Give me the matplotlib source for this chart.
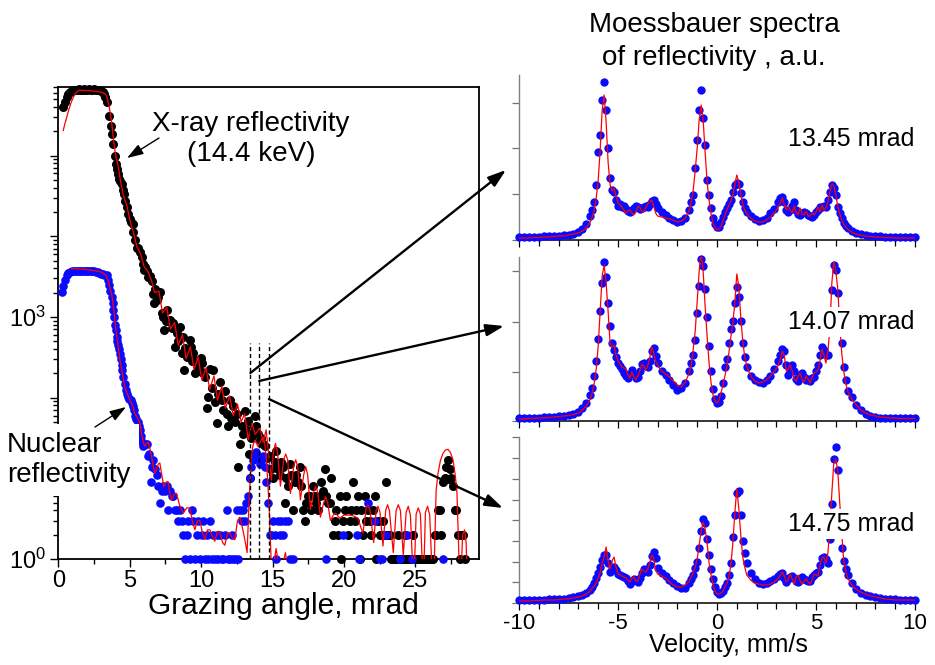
import matplotlib
matplotlib.use("Agg")
import matplotlib.pyplot as plt
from matplotlib.patches import FancyArrowPatch, ConnectionPatch
from matplotlib.ticker import FixedLocator, MultipleLocator, LogLocator, FixedFormatter, NullFormatter

plt.rcParams['font.family'] = ['Liberation Sans', 'DejaVu Sans']
plt.rcParams['mathtext.fontset'] = 'custom'
plt.rcParams['mathtext.rm'] = 'Liberation Sans'
plt.rcParams['mathtext.it'] = 'Liberation Sans:italic'
plt.rcParams['axes.unicode_minus'] = False

# ---------------- left panel data: reflectivity curves (counts) ----------------
XR_ANGLE = [0.35, 0.47, 0.59, 0.70, 0.82, 0.94, 1.06, 1.18, 1.30, 1.42,
            1.54, 1.66, 1.78, 1.90, 2.02, 2.14, 2.26, 2.38, 2.50, 2.62,
            2.74, 2.86, 2.98, 3.10, 3.20, 3.30, 3.43, 3.57, 3.66, 3.76,
            3.85, 3.97, 4.06, 4.13, 4.20, 4.27, 4.35, 4.43, 4.52, 4.60,
            4.69, 4.78, 4.90, 5.01, 5.10, 5.20, 5.26, 5.37, 5.48, 5.60,
            5.71, 5.83, 5.94, 6.00, 6.06, 6.18, 6.29, 6.41, 6.53, 6.64,
            6.70, 6.76, 6.88, 7.00, 7.11, 7.23, 7.34, 7.40, 7.52, 7.58,
            7.69, 7.81, 7.93, 8.04, 8.16, 8.28, 8.40, 8.51, 8.63, 8.74,
            8.80, 8.86, 8.98, 9.10, 9.21, 9.27, 9.33, 9.39, 9.45, 9.56,
            9.68, 9.80, 9.91, 9.97, 10.03, 10.09, 10.15, 10.26, 10.38, 10.49,
            10.60, 10.73, 10.84, 10.96, 11.08, 11.19, 11.31, 11.43, 11.55, 11.66,
            11.78, 11.89, 12.00, 12.12, 12.24, 12.36, 12.48, 12.59, 12.71, 12.83,
            12.94, 13.06, 13.18, 13.29, 13.35, 13.40, 13.52, 13.64, 13.76, 13.87,
            14.00, 14.10, 14.22, 14.36, 14.50, 14.64, 14.80, 14.92, 15.03, 15.15,
            15.27, 15.40, 15.50, 15.62, 15.73, 15.85, 15.97, 16.08, 16.20, 16.31,
            16.43, 16.55, 16.67, 16.78, 16.90, 17.02, 17.13, 17.25, 17.36, 17.48,
            17.60, 17.71, 17.83, 17.95, 18.07, 18.18, 18.30, 18.42, 18.53, 18.65,
            18.77, 18.88, 19.00, 19.12, 19.23, 19.35, 19.46, 19.58, 19.70, 19.82,
            19.93, 20.05, 20.17, 20.28, 20.40, 20.52, 20.63, 20.75, 20.87, 20.98,
            21.10, 21.22, 21.33, 21.45, 21.57, 21.68, 21.80, 21.92, 22.03, 22.15,
            22.27, 22.38, 22.50, 22.62, 22.73, 22.85, 22.97, 23.08, 23.20, 23.32,
            23.43, 23.55, 23.67, 23.78, 23.90, 24.02, 24.13, 24.24, 24.36, 24.48,
            24.60, 24.71, 24.83, 24.95, 25.06, 25.18, 25.29, 25.41, 25.53, 25.64,
            25.76, 25.88, 26.00, 26.11, 26.22, 26.34, 26.46, 26.57, 26.69, 26.81,
            26.92, 27.04, 27.16, 27.27, 27.39, 27.51, 27.63, 27.74, 27.86, 27.98,
            28.09, 28.21, 28.33, 28.44]
XR_COUNTS = [398000, 457000, 525000, 575000, 617000, 631000, 646000, 655000, 650000, 660000,
             655000, 650000, 660000, 655000, 650000, 660000, 650000, 655000, 660000, 650000,
             655000, 645000, 640000, 620000, 575000, 525000, 457000, 309000, 234000, 186000,
             138000, 100000, 79400, 67600, 58900, 51300, 47900, 44700, 37200, 33100,
             27500, 22900, 19100, 16200, 15100, 14100, 11200, 8910, 7240, 7240,
             6310, 5500, 4570, 3800, 4170, 3720, 3160, 3240, 2820, 1950,
             1480, 2240, 1620, 1780, 2040, 1120, 1000, 692, 890, 1230,
             891, 912, 724, 832, 427, 631, 501, 759, 355, 562,
             219, 417, 316, 380, 513, 427, 282, 324, 355, 200,
             263, 224, 295, 309, 209, 269, 200, 178, 74, 102,
             229, 132, 219, 89, 48, 112, 158, 93, 71, 120,
             63, 44, 93, 56, 78, 50, 63, 14, 27, 45,
             35, 68, 40, 52, 20, 10, 32, 40, 60, 44,
             35, 30, 32, 27, 25, 18, 19, 13, 10, 16,
             22, 13, 11, 16, 14, 5, 10, 8, 15, 11,
             4, 9, 11, 9, 14, 8, 4, 3, 5, 6,
             6, 4, 8, 6, 5, 4, 6, 9, 7, 13,
             6, 5, 5, 10, 2, 3, 4, 2, 6, 1,
             3, 4, 6, 2, 3, 4, 9, 3, 4, 6,
             1, 4, 2, 6, 3, 4, 3, 2, 4, 6,
             1, 3, 2, 2, 3, 2, 9, 2, 2, 1,
             1, 1, 1, 2, 1, 1, 1, 2, 1, 1,
             1, 1, 2, 1, 1, 1, 1, 1, 1, 1,
             1, 1, 1, 1, 1, 2, 2, 4, 4, 2,
             9, 10, 14, 17, 13, 10, 8, 4, 4, 2,
             1, 2, 2, 1]

NR_ANGLE = [0.23, 0.35, 0.47, 0.59, 0.71, 0.83, 0.95, 1.07, 1.19, 1.31,
            1.43, 1.55, 1.67, 1.79, 1.91, 2.03, 2.15, 2.27, 2.39, 2.51,
            2.63, 2.75, 2.87, 2.99, 3.11, 3.23, 3.38, 3.50, 3.57, 3.65,
            3.73, 3.80, 3.85, 3.91, 3.97, 4.03, 4.08, 4.14, 4.20, 4.26,
            4.31, 4.37, 4.43, 4.49, 4.55, 4.64, 4.73, 4.81, 4.90, 4.98,
            5.06, 5.15, 5.24, 5.30, 5.36, 5.45, 5.55, 5.64, 5.71, 5.77,
            5.83, 5.94, 6.06, 6.18, 6.29, 6.36, 6.46, 6.55, 6.64, 6.76,
            6.88, 7.00, 7.11, 7.23, 7.34, 7.46, 7.58, 7.69, 7.81, 7.93,
            8.04, 8.16, 8.28, 8.40, 8.51, 8.63, 8.74, 8.86, 8.98, 9.10,
            9.21, 9.33, 9.45, 9.56, 9.68, 9.80, 9.91, 10.03, 10.15, 10.26,
            10.38, 10.49, 10.61, 10.73, 10.84, 10.96, 11.08, 11.19, 11.31, 11.43,
            11.55, 11.66, 11.78, 11.89, 12.01, 12.13, 12.24, 12.36, 12.48, 12.59,
            12.71, 12.83, 12.94, 13.06, 13.17, 13.29, 13.40, 13.52, 13.64, 13.76,
            13.87, 13.99, 14.10, 14.22, 14.34, 14.45, 14.57, 14.69, 14.80, 14.92,
            15.03, 15.15, 15.27, 15.39, 15.50, 15.62, 15.73, 15.85, 16.08, 16.20,
            16.43, 18.75, 19.96, 20.90, 21.02, 21.67, 22.20, 22.50, 22.65, 22.95,
            23.90, 24.40, 24.75, 26.95]
NR_COUNTS = [2040, 2450, 2880, 3310, 3550, 3650, 3700, 3720, 3740, 3750,
             3760, 3750, 3760, 3750, 3740, 3720, 3720, 3700, 3700, 3680,
             3650, 3600, 3550, 3450, 3400, 3350, 3310, 2900, 2510, 2100,
             1780, 1500, 1230, 1000, 794, 680, 562, 500, 447, 400,
             347, 300, 257, 220, 182, 148, 123, 112, 102, 97,
             93, 85, 78, 70, 60, 55, 50, 45, 40, 33,
             28, 25, 27, 27, 19, 20, 9, 14, 17, 13,
             11, 8, 5, 7, 8, 7, 8, 4, 7, 6,
             6, 4, 4, 3, 4, 3, 2, 1, 2, 3,
             1, 4, 3, 1, 2, 3, 1, 2, 3, 1,
             2, 1, 3, 1, 2, 1, 2, 1, 2, 1,
             1, 2, 4, 1, 1, 2, 1, 1, 4, 1,
             4, 3, 4, 3, 5, 6, 10, 14, 17, 19,
             21, 18, 15, 17, 19, 14, 9, 5, 2, 2,
             3, 2, 1, 3, 2, 3, 2, 3, 3, 1,
             1, 1, 2, 2, 1, 5, 3, 1, 1, 2,
             1, 2, 1, 1]

XR_FIT_ANGLE = [0.35, 0.47, 0.59, 0.73, 0.87, 1.02, 1.17, 1.32, 1.47, 2.0,
                2.5, 3.0, 3.15, 3.27, 3.38, 3.47, 3.57, 3.65, 3.73, 3.85,
                3.97, 4.08, 4.20, 4.28, 4.36, 4.45, 4.55, 4.66, 4.78, 4.90,
                5.01, 5.12, 5.24, 5.38, 5.52, 5.62, 5.72, 5.83, 6.00, 6.10,
                6.18, 6.36, 6.53, 6.75, 7.05, 7.30, 7.60, 7.85, 8.15, 8.40,
                8.70, 8.95, 9.25, 9.50, 9.80, 10.05, 10.35, 10.60, 10.90, 11.15,
                11.45, 11.70, 12.00, 12.25, 12.55, 12.80, 13.05, 13.30, 13.55, 13.80,
                14.10, 14.35, 14.55, 14.92, 15.05, 15.20, 15.35, 15.55, 15.78, 15.92,
                16.06, 16.25, 16.48, 16.62, 16.76, 16.95, 17.18, 17.32, 17.46, 17.65,
                17.88, 18.02, 18.16, 18.35, 18.58, 18.72, 18.86, 19.05, 19.25, 19.42,
                19.70, 20.00, 20.40, 20.70, 20.98, 21.20, 21.33, 21.55, 21.68, 21.82,
                22.08, 22.25, 22.38, 22.52, 22.73, 22.92, 23.05, 23.18, 23.45, 23.65,
                23.80, 23.95, 24.15, 24.35, 24.50, 24.65, 24.88, 25.05, 25.20, 25.35,
                25.55, 25.70, 25.85, 26.00, 26.25, 26.45, 26.58, 26.75, 26.93, 27.10,
                27.28, 27.45, 27.63, 27.80, 27.91, 28.14, 28.30, 28.44, 28.55, 28.65]
XR_FIT = [204000, 250000, 295000, 365000, 437000, 510000, 575000, 620000, 646000, 640000,
          630000, 610000, 600000, 580000, 550000, 480000, 400000, 330000, 269000, 170000,
          115000, 90000, 74000, 60000, 48000, 40000, 33000, 28000, 25000, 20000,
          16200, 13500, 11700, 9300, 7240, 6900, 6300, 5500, 4270, 4000,
          3890, 3390, 2820, 2000, 2090, 1120, 1320, 708, 851, 447,
          603, 302, 427, 224, 316, 166, 234, 126, 186, 93,
          138, 74, 105, 60, 83, 50, 63, 30, 48, 35,
          42, 28, 40, 9.5, 21, 27, 21, 8, 17, 20,
          17, 6.5, 14, 17, 14, 5.4, 11, 14, 11, 4.1,
          6.8, 7.9, 6.8, 3.3, 5.0, 5.9, 5.0, 3.0, 3.5, 3.7,
          3.2, 3.5, 3.5, 3.4, 3.2, 2.4, 2.1, 4.2, 4.7, 4.0,
          1.6, 4.0, 4.5, 3.8, 1.45, 4.0, 4.7, 4.0, 1.2, 4.0,
          4.7, 4.0, 1.1, 3.8, 4.5, 3.5, 0.4, 3.6, 4.3, 3.6,
          0.4, 3.8, 4.5, 3.5, 0.3, 7.1, 11.5, 16.6, 20.4, 22.4,
          22.9, 20.9, 17.0, 10.5, 6.5, 0.3, 2.0, 2.3, 1.6, 0.3]

NR_FIT_ANGLE = [0.94, 1.30, 1.80, 2.30, 2.70, 3.00, 3.20, 3.38, 3.50, 3.62,
                3.75, 3.85, 3.97, 4.08, 4.20, 4.31, 4.43, 4.55, 4.66, 4.78,
                4.95, 5.13, 5.25, 5.36, 5.50, 5.67, 5.75, 5.83, 5.95, 6.06,
                6.18, 6.29, 6.40, 6.53, 6.65, 6.76, 6.90, 7.00, 7.11, 7.25,
                7.39, 7.55, 7.69, 7.82, 7.93, 8.10, 8.28, 8.50, 8.74, 9.00,
                9.21, 9.40, 9.56, 9.75, 9.91, 10.10, 10.26, 10.45, 10.61, 10.80,
                10.96, 11.15, 11.31, 11.50, 11.66, 11.85, 12.00, 12.20, 12.36, 12.55,
                12.71, 12.90, 13.06, 13.22, 13.36, 13.52, 13.64, 13.76, 13.88, 14.00,
                14.17, 14.34, 14.47, 14.57, 14.68, 14.76, 14.86, 14.95, 15.10, 15.25,
                15.40, 15.55, 15.75, 15.90, 16.05, 16.20]
NR_FIT = [3980, 3950, 3900, 3800, 3700, 3600, 3450, 3200, 2800, 2300,
          1900, 1400, 900, 620, 430, 300, 230, 170, 135, 117,
          100, 85, 76, 63, 58, 52, 45, 36, 28, 25,
          27, 28, 24, 19, 14, 11.5, 13, 15, 15.5, 11,
          7.9, 9, 9.1, 6.5, 5.4, 6.3, 6.5, 4.6, 3.7, 4.3,
          4.3, 2.9, 2.3, 3.0, 3.0, 2.1, 1.74, 2.3, 2.3, 1.9,
          1.66, 2.2, 2.19, 1.6, 1.48, 2.1, 2.09, 1.8, 1.74, 3.0,
          3.3, 2.4, 1.74, 1.2, 5.4, 18.6, 26, 29.5, 27, 24.5,
          29, 32.4, 26, 17, 8, 4.5, 1.5, 0.6, 0.9, 1.35,
          0.9, 0.5, 0.9, 1.2, 0.8, 0.5]

SELECTED_ANGLES = [13.45, 14.07, 14.75]
SELECTED_LABELS = ['13.45 mrad', '14.07 mrad', '14.75 mrad']

# ---------------- right panels: Moessbauer spectra (a.u.) ----------------
VELOCITY = [-10, -9.75, -9.5, -9.25, -9, -8.75, -8.5, -8.25, -8, -7.75,
            -7.5, -7.25, -7, -6.8, -6.6, -6.4, -6.3, -6.2, -6.1, -6.0,
            -5.9, -5.8, -5.7, -5.6, -5.5, -5.4, -5.3, -5.2, -5.1, -5.0,
            -4.9, -4.8, -4.7, -4.6, -4.5, -4.4, -4.3, -4.2, -4.1, -4.0,
            -3.9, -3.8, -3.7, -3.6, -3.5, -3.4, -3.3, -3.2, -3.1, -3.0,
            -2.8, -2.6, -2.4, -2.2, -2.0, -1.8, -1.6, -1.4, -1.3, -1.2,
            -1.1, -1.0, -0.9, -0.8, -0.7, -0.6, -0.5, -0.4, -0.3, -0.2,
            -0.1, 0.0, 0.1, 0.2, 0.3, 0.4, 0.5, 0.6, 0.7, 0.8,
            0.9, 1.0, 1.1, 1.2, 1.3, 1.4, 1.5, 1.7, 1.9, 2.1,
            2.3, 2.5, 2.7, 2.9, 3.1, 3.2, 3.3, 3.4, 3.5, 3.6,
            3.7, 3.8, 3.9, 4.0, 4.1, 4.2, 4.3, 4.4, 4.5, 4.6,
            4.7, 4.8, 4.9, 5.0, 5.1, 5.2, 5.3, 5.4, 5.5, 5.6,
            5.7, 5.8, 5.9, 6.0, 6.1, 6.2, 6.3, 6.4, 6.5, 6.6,
            6.8, 7.0, 7.25, 7.5, 7.75, 8.0, 8.25, 8.5, 8.75, 9.0,
            9.25, 9.5, 9.75, 10.0]

SPEC_1345 = [3, 3, 3, 3, 3.5, 4, 4, 4, 4.5, 5,
             5.5, 6, 8, 11, 16, 24, 30, 38, 55, 88,
             105, 140, 158, 130, 92, 62, 50, 48, 40, 34,
             36, 33, 34, 31, 29, 28, 30, 32, 34, 33,
             31, 32, 33, 34, 33, 36, 39, 40, 36, 32,
             28, 25, 22, 20, 18, 19, 22, 30, 38, 45,
             72, 100, 130, 150, 122, 95, 60, 45, 32, 22,
             16, 13, 13, 18, 23, 28, 32, 36, 40, 48,
             55, 57, 56, 47, 38, 32, 28, 24, 21, 19,
             20, 22, 27, 31, 38, 42, 43, 38, 30, 28,
             30, 34, 38, 30, 26, 25, 27, 28, 27, 25,
             24, 23, 25, 28, 30, 33, 33, 34, 33, 40,
             48, 55, 52, 45, 33, 27, 22, 17, 14, 12,
             9, 7, 6, 5, 4.5, 4, 4, 3.5, 3.5, 3,
             3, 3, 3, 3]
FIT_1345 = [2, 2, 2, 2.5, 2.5, 3, 3, 3.5, 4, 4,
            5, 6, 7, 9, 12, 18, 23, 30, 42, 60,
            90, 130, 145, 118, 78, 55, 49, 52, 44, 37,
            35, 33, 30, 27, 29, 30, 27, 25, 28, 33,
            33, 29, 28, 32, 36, 38, 40, 34, 27, 24,
            23, 22, 21, 20, 18, 19, 22, 30, 38, 50,
            70, 92, 120, 135, 120, 88, 58, 40, 26, 17,
            12, 10, 11, 14, 19, 25, 30, 35, 39, 45,
            56, 65, 58, 45, 36, 30, 26, 22, 19, 18,
            18, 20, 23, 27, 33, 37, 42, 35, 30, 34,
            30, 27, 34, 28, 25, 32, 26, 25, 29, 24,
            24, 27, 25, 28, 33, 28, 35, 30, 32, 38,
            48, 56, 54, 45, 34, 26, 20, 16, 13, 11,
            8, 6, 5, 4, 3.5, 3, 3, 2.5, 2.5, 2,
            2, 2, 2, 2]

SPEC_1407 = [3, 3, 3, 3.5, 3.5, 4, 4, 4.5, 5, 5.5,
             6, 7, 9, 13, 18, 26, 33, 45, 60, 82,
             110, 138, 159, 144, 118, 95, 78, 71, 64, 58,
             55, 52, 48, 45, 43, 47, 51, 47, 43, 44,
             50, 57, 58, 55, 54, 60, 70, 73, 65, 58,
             50, 46, 41, 36, 31, 33, 38, 50, 58, 66,
             81, 108, 135, 162, 155, 132, 104, 75, 50, 32,
             22, 18, 19, 25, 38, 54, 62, 78, 92, 100,
             118, 134, 124, 100, 78, 64, 54, 45, 41, 39,
             38, 41, 45, 52, 60, 66, 72, 70, 56, 46,
             50, 56, 50, 42, 40, 46, 48, 44, 41, 42,
             40, 43, 44, 50, 56, 66, 74, 71, 66, 66,
             100, 131, 156, 151, 128, 95, 78, 54, 41, 30,
             24, 16, 11, 7, 5, 4, 3.5, 3.5, 3, 3,
             3, 3, 3, 3]
FIT_1407 = [2, 2, 2.5, 2.5, 3, 3, 3.5, 4, 4.5, 5,
            5.5, 6.5, 8, 11, 15, 22, 28, 38, 52, 75,
            110, 145, 156, 138, 110, 78, 74, 76, 66, 60,
            57, 54, 53, 52, 46, 43, 49, 44, 41, 45,
            50, 57, 55, 51, 55, 63, 74, 68, 60, 56,
            50, 47, 44, 40, 36, 34, 39, 48, 56, 72,
            90, 120, 150, 170, 150, 115, 85, 58, 38, 26,
            20, 18, 21, 28, 36, 45, 55, 68, 84, 98,
            118, 147, 135, 104, 80, 64, 55, 45, 40, 38,
            39, 41, 45, 50, 56, 62, 70, 65, 50, 52,
            56, 50, 42, 40, 45, 48, 41, 39, 45, 42,
            38, 43, 48, 49, 51, 60, 72, 66, 58, 70,
            92, 138, 159, 150, 132, 95, 68, 50, 38, 30,
            22, 17, 11, 8, 6, 5, 4, 3.5, 3, 3,
            2.5, 2.5, 2.5, 2.5]

SPEC_1475 = [3, 3, 3, 3, 3.5, 3.5, 4, 4, 4, 4.5,
             5, 6, 7, 8, 10, 13, 16, 20, 25, 30,
             36, 43, 48, 48, 40, 31, 34, 36, 33, 29,
             28, 27, 26, 25, 22, 19, 22, 24, 23, 21,
             25, 30, 34, 32, 31, 38, 47, 51, 45, 35,
             30, 27, 23, 20, 17, 15, 15, 20, 24, 28,
             35, 41, 55, 72, 84, 80, 64, 48, 34, 24,
             16, 11, 9, 10, 12, 16, 20, 28, 40, 66,
             88, 110, 112, 88, 62, 50, 40, 30, 24, 20,
             19, 20, 22, 24, 27, 29, 30, 25, 21, 24,
             26, 27, 25, 22, 21, 23, 26, 24, 23, 22,
             22, 26, 28, 30, 31, 38, 45, 46, 44, 40,
             64, 99, 144, 156, 133, 90, 55, 42, 34, 28,
             20, 14, 10, 8, 7, 6, 5, 4.5, 4, 4,
             3.5, 3.5, 3.5, 3.5]
FIT_1475 = [2, 2, 2, 2.5, 2.5, 3, 3, 3, 3.5, 4,
            4, 5, 6, 7, 9, 12, 15, 17, 20, 25,
            30, 40, 46, 56, 42, 34, 42, 46, 36, 29,
            28, 27, 26, 25, 23, 21, 25, 26, 22, 22,
            28, 34, 32, 31, 34, 40, 48, 45, 33, 29,
            27, 25, 21, 18, 16, 16, 18, 22, 26, 30,
            36, 44, 58, 72, 81, 74, 60, 40, 28, 18,
            12, 9, 9, 10, 12, 16, 20, 26, 38, 60,
            90, 114, 95, 68, 46, 36, 28, 23, 20, 19,
            18, 18, 19, 21, 25, 28, 31, 27, 21, 24,
            29, 24, 19, 26, 28, 22, 19, 22, 24, 21,
            19, 23, 29, 28, 27, 38, 45, 46, 40, 50,
            75, 110, 140, 144, 132, 100, 70, 42, 32, 25,
            18, 14, 11, 9, 7, 6, 5, 4, 3.5, 3,
            3, 3, 3, 3]

assert len(XR_ANGLE) == len(XR_COUNTS), (len(XR_ANGLE), len(XR_COUNTS))
assert len(NR_ANGLE) == len(NR_COUNTS), (len(NR_ANGLE), len(NR_COUNTS))
assert len(XR_FIT_ANGLE) == len(XR_FIT), (len(XR_FIT_ANGLE), len(XR_FIT))
assert len(NR_FIT_ANGLE) == len(NR_FIT), (len(NR_FIT_ANGLE), len(NR_FIT))
for s in (SPEC_1345, FIT_1345, SPEC_1407, FIT_1407, SPEC_1475, FIT_1475):
    assert len(s) == len(VELOCITY), (len(s), len(VELOCITY))

# ---------------- figure ----------------
W, H = 935, 665
fig = plt.figure(figsize=(W / 100, H / 100), dpi=100)


def frac_box(left, top, right, bottom):
    return [left / W, 1 - bottom / H, (right - left) / W, (bottom - top) / H]


BLUE = '#0a0aff'
RED = '#ff0000'

# left panel
axL = fig.add_axes(frac_box(57.5, 87, 479, 559))
axL.set_yscale('log')
axL.set_xlim(-0.05, 29.45)
axL.set_ylim(1, 10 ** 5.85)
axL.plot(XR_ANGLE, XR_COUNTS, 'o', color='black', ms=6.5, mew=0, clip_on=False, zorder=3)
axL.plot(NR_ANGLE, NR_COUNTS, 'o', color=BLUE, ms=6.2, mew=0, clip_on=False, zorder=3.5)
axL.plot(XR_FIT_ANGLE, XR_FIT, '-', color=RED, lw=0.9, zorder=5)
axL.plot(NR_FIT_ANGLE, NR_FIT, '-', color=RED, lw=0.9, zorder=5)
axL.vlines(SELECTED_ANGLES, 1, 475, colors='black', linestyles=(0, (3, 2)), lw=1.0, zorder=6)

axL.xaxis.set_major_locator(FixedLocator([0, 5, 10, 15, 20, 25]))
axL.xaxis.set_minor_locator(FixedLocator([2.5, 7.5, 12.5, 17.5, 22.5, 27.5]))
axL.yaxis.set_major_locator(FixedLocator([1, 10, 100, 1e3, 1e4, 1e5]))
axL.yaxis.set_major_formatter(FixedFormatter([r'$10^0$', '', '', r'$10^3$', '', '']))
axL.yaxis.set_minor_locator(LogLocator(base=10, subs=[2, 3, 4, 5, 6, 7, 8, 9], numticks=20))
axL.yaxis.set_minor_formatter(NullFormatter())
axL.tick_params(which='both', direction='out', top=False, right=False, width=1.0)
axL.tick_params(which='major', length=6, labelsize=17, pad=2)
axL.tick_params(which='minor', length=3.5)
for sp in axL.spines.values():
    sp.set_linewidth(1.3)

fig.text(283 / W, 1 - 606 / H, 'Grazing angle, mrad', ha='center', va='center', fontsize=21.5)
fig.text(251 / W, 1 - 139 / H, 'X-ray reflectivity\n(14.4 keV)', ha='center', va='center',
         fontsize=20, multialignment='center', linespacing=1.2, zorder=10)
fig.text(7 / W, 1 - 460 / H, 'Nuclear\nreflectivity', ha='left', va='center', fontsize=20,
         linespacing=1.2, zorder=10,
         bbox=dict(boxstyle='square,pad=0.3', fc='white', ec='none'))


def fig_arrow(p0, p1, lw=1.0, hl=0.7, hw=0.3, ms=12):
    a = FancyArrowPatch(posA=(p0[0] / W, 1 - p0[1] / H), posB=(p1[0] / W, 1 - p1[1] / H),
                        transform=fig.transFigure,
                        arrowstyle='-|>,head_length=%g,head_width=%g' % (hl, hw),
                        mutation_scale=ms, lw=lw, color='black', shrinkA=0, shrinkB=0, zorder=12)
    fig.add_artist(a)


fig_arrow((159, 138), (127, 158), lw=1.0, hl=0.9, hw=0.3, ms=11)
fig_arrow((95, 427), (126, 407), lw=1.0, hl=0.9, hw=0.3, ms=11)

# right panels
panel_boxes = [(519, 75, 915, 240), (519, 257, 915, 421), (519, 437, 915, 603)]
panel_ylim = [165, 164, 166]
panel_yticks = [[0, 46, 92, 137], [0, 49, 99, 150],
                [0, 20.7, 41.4, 62.1, 82.8, 103.5, 124.2, 144.9, 165.6]]
spectra = [SPEC_1345, SPEC_1407, SPEC_1475]
fits = [FIT_1345, FIT_1407, FIT_1475]
label_y = [139, 322, 524]
arrow_end = [(506, 170), (504, 326), (503, 508)]
arrow_start_counts = [202, 161, 96]

axes_r = []
for i in range(3):
    ax = fig.add_axes(frac_box(*panel_boxes[i]))
    axes_r.append(ax)
    ax.plot(VELOCITY, spectra[i], 'o', color=BLUE, ms=6.0, mew=0, clip_on=False, zorder=3)
    ax.plot(VELOCITY, fits[i], '-', color=RED, lw=0.9, zorder=4)
    ax.set_xlim(-10, 10)
    ax.set_ylim(0, panel_ylim[i])
    ax.spines['top'].set_visible(False)
    ax.spines['right'].set_visible(False)
    ax.spines['left'].set_color('0.5')
    ax.spines['left'].set_linewidth(1.0)
    ax.spines['bottom'].set_linewidth(1.1)
    ax.xaxis.set_major_locator(FixedLocator([-10, -5, 0, 5, 10]))
    ax.xaxis.set_minor_locator(MultipleLocator(1))
    ax.yaxis.set_major_locator(FixedLocator(panel_yticks[i]))
    ax.tick_params(which='both', direction='out', width=0.9)
    ax.tick_params(axis='x', which='major', length=5, labelsize=16, pad=2)
    ax.tick_params(axis='x', which='minor', length=4)
    ax.tick_params(axis='y', which='major', length=5, color='0.45', labelleft=False)
    if i < 2:
        ax.tick_params(axis='x', labelbottom=False)
    else:
        ax.set_xticklabels(['-10', '-5', '0', '5', '10'])
    ax.text(914 / W, 1 - label_y[i] / H, SELECTED_LABELS[i], transform=fig.transFigure,
            ha='right', va='center', fontsize=18, zorder=8,
            bbox=dict(boxstyle='square,pad=0.12', fc='white', ec='none'))

    con = ConnectionPatch(xyA=(SELECTED_ANGLES[i], arrow_start_counts[i]), coordsA='data', axesA=axL,
                          xyB=(arrow_end[i][0] / W, 1 - arrow_end[i][1] / H), coordsB='figure fraction',
                          arrowstyle='-|>,head_length=0.9,head_width=0.3', mutation_scale=12,
                          lw=1.7, color='black', shrinkA=0, shrinkB=0, zorder=12)
    con.set_clip_on(False)
    fig.add_artist(con)

fig.text(714 / W, 1 - 25 / H, 'Moessbauer spectra', ha='center', va='center', fontsize=20)
fig.text(714 / W, 1 - 58 / H, 'of reflectivity , a.u.', ha='center', va='center', fontsize=20)
fig.text(728 / W, 1 - 645 / H, 'Velocity, mm/s', ha='center', va='center', fontsize=18)

fig.savefig('out.png', dpi=100)
